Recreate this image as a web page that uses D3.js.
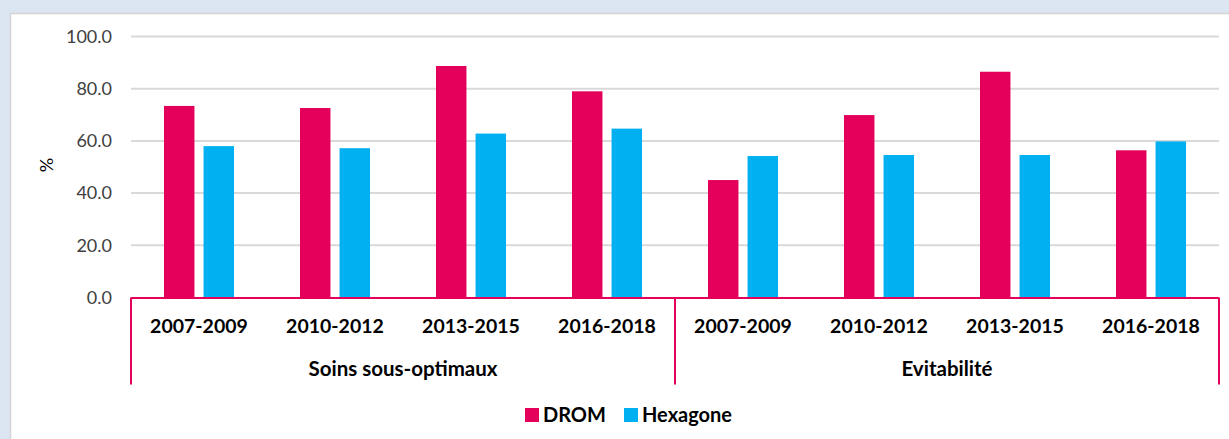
<!DOCTYPE html>
<html>
<head>
<meta charset="utf-8">
<script src="https://cdn.jsdelivr.net/npm/d3@7"></script>
<style>
  body { margin: 0; background: #dce6f2; }
  svg { display: block; }
</style>
</head>
<body>
<div id="chart"></div>
<script>
var groups = ["Soins sous-optimaux", "Evitabilité"];
var periods = ["2007-2009", "2010-2012", "2013-2015", "2016-2018"];
var seriesNames = ["DROM", "Hexagone"];
var drom = [73.4, 72.6, 88.7, 79.0, 45.0, 69.9, 86.5, 56.4];
var hexagone = [58.0, 57.2, 62.8, 64.7, 54.2, 54.6, 54.6, 59.8];
var yTicks = [0, 20, 40, 60, 80, 100];

var colors = { "DROM": "#e4005a", "Hexagone": "#00b0f0" };

var svgWidth = 1229;
var svgHeight = 439;

var margin = { top: 36.5, left: 131, right: 10, bottom: 141.5 };
var width = 1219 - margin.left;
var height = 297.5 - margin.top;

// flat list of the 8 categories (group x period)
var cats = [];
groups.forEach(function(g, gi) {
  periods.forEach(function(p, pi) {
    cats.push({ key: g + "|" + p, group: g, period: p, i: gi * periods.length + pi });
  });
});

var svg = d3.select("#chart")
  .append("svg")
  .attr("width", svgWidth)
  .attr("height", svgHeight);

// white chart area
svg.append("rect")
  .attr("x", 10.5)
  .attr("y", 13.5)
  .attr("width", 1240)
  .attr("height", 440)
  .attr("fill", "#ffffff")
  .attr("stroke", "#d4d4d4")
  .attr("stroke-width", 1.5);

var chartGroup = svg.append("g")
  .attr("transform", `translate(${margin.left}, ${margin.top})`);

var x0 = d3.scaleBand()
  .domain(cats.map(d => d.key))
  .range([0, width])
  .paddingInner(0.485)
  .paddingOuter(0.2425);

var x1 = d3.scaleBand()
  .domain(seriesNames)
  .range([0, x0.bandwidth()])
  .paddingInner(0.23);

var y = d3.scaleLinear()
  .domain([0, 100])
  .range([height, 0]);

// gridlines
chartGroup.append("g")
  .selectAll("line")
  .data(yTicks.filter(d => d > 0))
  .enter()
  .append("line")
  .attr("x1", 0)
  .attr("x2", width)
  .attr("y1", d => y(d))
  .attr("y2", d => y(d))
  .attr("stroke", "#d9d9d9")
  .attr("stroke-width", 2);

// y axis labels
var yAxis = d3.axisLeft(y)
  .tickValues(yTicks)
  .tickSize(0)
  .tickPadding(19)
  .tickFormat(d3.format(".1f"));

var yG = chartGroup.append("g").call(yAxis);
yG.select(".domain").remove();
yG.selectAll("text")
  .attr("font-family", "Lato, sans-serif")
  .attr("font-size", "18px")
  .attr("fill", "#404040");

// bars
var series = [
  { name: "DROM", values: drom },
  { name: "Hexagone", values: hexagone }
];

series.forEach(function(s) {
  chartGroup.append("g")
    .selectAll("rect")
    .data(cats)
    .enter()
    .append("rect")
    .attr("x", d => x0(d.key) + x1(s.name))
    .attr("y", d => y(s.values[d.i]))
    .attr("width", x1.bandwidth())
    .attr("height", d => height - y(s.values[d.i]))
    .attr("fill", colors[s.name]);
});

// multi-level category axis
var axisColor = "#e4005a";
var axisG = chartGroup.append("g")
  .attr("transform", `translate(0, ${height})`);

axisG.append("line")
  .attr("x1", 0)
  .attr("x2", width)
  .attr("y1", 0.5)
  .attr("y2", 0.5)
  .attr("stroke", axisColor)
  .attr("stroke-width", 2);

var bounds = [0, x0.step() * periods.length, width];
axisG.selectAll(".sep")
  .data(bounds)
  .enter()
  .append("line")
  .attr("class", "sep")
  .attr("x1", d => d)
  .attr("x2", d => d)
  .attr("y1", 0)
  .attr("y2", 87)
  .attr("stroke", axisColor)
  .attr("stroke-width", 2);

axisG.selectAll(".catLabel")
  .data(cats)
  .enter()
  .append("text")
  .attr("class", "catLabel")
  .attr("x", d => x0(d.key) + x0.bandwidth() / 2)
  .attr("y", 35.5)
  .attr("text-anchor", "middle")
  .attr("font-family", "Lato, sans-serif")
  .attr("font-weight", "bold")
  .attr("font-size", "19.5px")
  .attr("fill", "#000")
  .text(d => d.period);

axisG.selectAll(".grpLabel")
  .data(groups)
  .enter()
  .append("text")
  .attr("class", "grpLabel")
  .attr("x", (d, i) => (bounds[i] + bounds[i + 1]) / 2)
  .attr("y", 78.5)
  .attr("text-anchor", "middle")
  .attr("font-family", "Lato, sans-serif")
  .attr("font-weight", "bold")
  .attr("font-size", "20.5px")
  .attr("fill", "#000")
  .text(d => d);

// y axis title
svg.append("text")
  .attr("transform", "translate(53, 165) rotate(-90)")
  .attr("text-anchor", "middle")
  .attr("font-family", "Lato, sans-serif")
  .attr("font-size", "18px")
  .attr("fill", "#000")
  .text("%");

// legend
var legendX = [525, 624];
var legend = svg.append("g")
  .selectAll("g")
  .data(seriesNames)
  .enter()
  .append("g")
  .attr("transform", (d, i) => `translate(${legendX[i]}, 408)`);

legend.append("rect")
  .attr("width", 14)
  .attr("height", 14)
  .attr("fill", d => colors[d]);

legend.append("text")
  .attr("x", 18)
  .attr("y", 14)
  .attr("font-family", "Lato, sans-serif")
  .attr("font-weight", "bold")
  .attr("font-size", "20px")
  .attr("fill", "#000")
  .text(d => d);
</script>
</body>
</html>
